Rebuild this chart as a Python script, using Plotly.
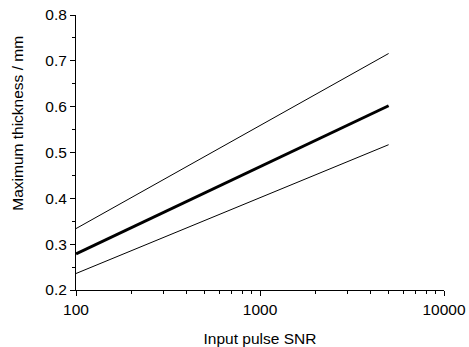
import plotly.graph_objects as go

snr = [100, 5000]
upper = [0.334, 0.716]
middle = [0.279, 0.602]
lower = [0.236, 0.517]

x_ticks = [100, 1000, 10000]
x_ticklabels = ["100", "1000", "10000"]
y_ticks = [0.2, 0.3, 0.4, 0.5, 0.6, 0.7, 0.8]

W, H = 469, 347
ML, MR, MT, MB = 75.5, 25, 14.7, 57

fig = go.Figure()
fig.add_trace(go.Scatter(x=snr, y=upper, mode="lines", line=dict(color="black", width=1)))
fig.add_trace(go.Scatter(x=snr, y=middle, mode="lines", line=dict(color="black", width=3)))
fig.add_trace(go.Scatter(x=snr, y=lower, mode="lines", line=dict(color="black", width=1)))

font = dict(family="Liberation Sans, Arial, Helvetica, sans-serif", size=15.5, color="black")

pw = W - ML - MR
ph = H - MT - MB
ytitle_x = (17 - ML) / pw
ytitle_y = (H - MB - 123) / ph

fig.add_annotation(
    text="Maximum thickness / mm", textangle=-90,
    xref="paper", yref="paper", x=ytitle_x, y=ytitle_y,
    xanchor="center", yanchor="middle", showarrow=False,
    font=dict(size=15.5),
)

fig.update_layout(
    width=W, height=H,
    margin=dict(l=ML, r=MR, t=MT, b=MB, pad=0, autoexpand=False),
    paper_bgcolor="white", plot_bgcolor="white",
    showlegend=False,
    font=font,
    xaxis=dict(
        type="log", range=[2, 4],
        tickvals=x_ticks, ticktext=x_ticklabels,
        automargin=False, ticklabeloverflow="allow",
        showgrid=False, zeroline=False,
        showline=True, linecolor="black", linewidth=1,
        ticks="outside", ticklen=5, tickcolor="black",
        minor=dict(ticks="outside", ticklen=3, tickcolor="black", dtick="D1", showgrid=False),
        title=dict(text="Input pulse SNR", font=dict(size=15.5), standoff=16),
        tickfont=dict(size=15.5),
    ),
    yaxis=dict(
        range=[0.2, 0.8],
        tickvals=y_ticks,
        tickformat=".1f",
        automargin=False, ticklabeloverflow="allow",
        showgrid=False, zeroline=False,
        showline=True, linecolor="black", linewidth=1,
        ticks="outside", ticklen=5, tickcolor="black",
        minor=dict(ticks="outside", ticklen=3, tickcolor="black", dtick=0.05, showgrid=False),
        tickfont=dict(size=15.5),
    ),
)

fig.write_html(
    "out.html",
    config={"displayModeBar": False},
    post_script="document.body.style.margin='0';document.body.style.overflow='hidden';",
)
